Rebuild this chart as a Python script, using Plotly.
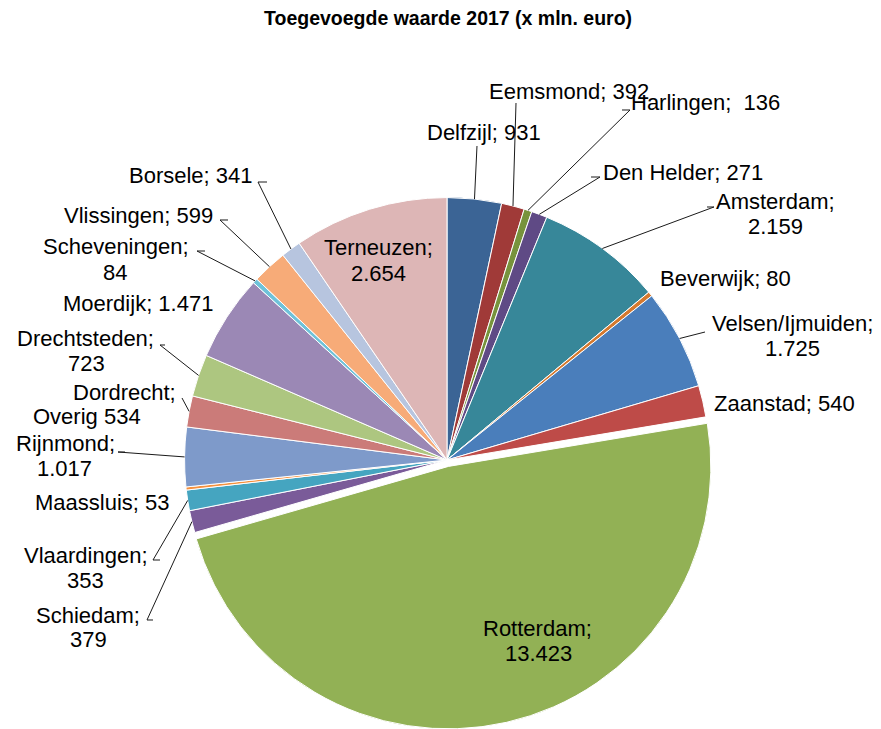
import math
import plotly.graph_objects as go

# ---- data ----
regions = ["Delfzijl", "Eemsmond", "Harlingen", "Den Helder", "Amsterdam", "Beverwijk",
           "Velsen/Ijmuiden", "Zaanstad", "Rotterdam", "Schiedam", "Vlaardingen", "Maassluis",
           "Rijnmond", "Dordrecht; Overig", "Drechtsteden", "Moerdijk", "Scheveningen",
           "Vlissingen", "Borsele", "Terneuzen"]
values = [931, 392, 136, 271, 2159, 80, 1725, 540, 13423, 379, 353, 53,
          1017, 534, 723, 1471, 84, 599, 341, 2654]
label_lines = [["Delfzijl; 931"], ["Eemsmond; 392"], ["Harlingen;\u00a0 136"], ["Den Helder; 271"],
               ["Amsterdam;", "2.159"], ["Beverwijk; 80"], ["Velsen/Ijmuiden;", "1.725"],
               ["Zaanstad; 540"], ["Rotterdam;", "13.423"], ["Schiedam;", "379"],
               ["Vlaardingen;", "353"], ["Maassluis; 53"], ["Rijnmond;", "1.017"],
               ["Dordrecht;", "Overig 534"], ["Drechtsteden;", "723"], ["Moerdijk; 1.471"],
               ["Scheveningen;", "84"], ["Vlissingen; 599"], ["Borsele; 341"], ["Terneuzen;", "2.654"]]
title_text = "Toegevoegde waarde 2017 (x mln. euro)"

# ---- styling / layout ----
colors = ["#3B6495", "#A03A38", "#77933C", "#5F4A85", "#378799", "#D5792E",
          "#4A7EBB", "#BE4B48", "#92B155", "#7A5B99", "#45A5C0", "#F5913E",
          "#7E9ACA", "#CB7B79", "#ADC680", "#9B88B5", "#6FC2D9", "#F7AB78",
          "#B7C5DF", "#DDB6B6"]
pulls = [0.025 if r == "Rotterdam" else 0 for r in regions]

W, H = 881, 729
CX, CY = 447, 460              # pie centre in pixels (from top-left)
HALF = H - CY                  # half size of the pie box
R = HALF / (1 + max(pulls))    # plotly radius rule

# per-line label centres in pixels
line_pos = [[(484, 132)], [(569, 91)], [(705, 103)], [(683, 172)],
            [(775, 202), (775, 227)], [(725, 279)], [(792, 323), (792, 348)],
            [(784, 403)], [(537, 628), (538, 653)], [(88, 615), (88, 639)],
            [(86, 555), (85, 580)], [(102, 502)], [(65, 443), (64, 468)],
            [(124, 392), (87, 417)], [(85, 338), (86, 363)], [(138, 303)],
            [(116, 247), (115, 272)], [(138, 215)], [(191, 175)], [(378, 248), (378, 274)]]

# leader line points (pixels) from the label side, None = no leader
leaders = [[(477, 146)], [(516, 103)], [(630, 110), (622, 110)], [(600, 177), (591, 177)],
           [(714, 207), (707, 207)], None, [(705, 332)], None, None,
           [(147, 620), (153, 620)], [(153, 560), (160, 560)], None,
           [(118, 452), (125, 452)], [(182, 398)], [(160, 345), (165, 345)], None,
           [(197, 251), (205, 251)], [(220, 220), (228, 220)], [(258, 182), (267, 182)], None]

FONT = "Liberation Sans, Arial, sans-serif"


def px(x):
    return x / W


def py(y):
    return 1 - y / H


fig = go.Figure(go.Pie(
    labels=regions, values=values, sort=False, direction="clockwise", rotation=0,
    marker=dict(colors=colors, line=dict(color="white", width=1)),
    pull=pulls, textinfo="none", hoverinfo="label+value",
    domain=dict(x=[(CX - HALF) / W, (CX + HALF) / W], y=[0, 2 * HALF / H]),
))

annotations = []
font = dict(family=FONT, size=22, color="#000000")
for lines, poss in zip(label_lines, line_pos):
    for txt, (x, y) in zip(lines, poss):
        annotations.append(dict(text=txt, x=px(x), y=py(y), xref="paper", yref="paper",
                                xanchor="center", yanchor="middle", showarrow=False,
                                font=font))
annotations.append(dict(text="<b>" + title_text + "</b>", x=px(448), y=py(18),
                        xref="paper", yref="paper", xanchor="center", yanchor="middle",
                        showarrow=False, font=dict(family=FONT, size=19.5, color="#000000")))

shapes = []
total = sum(values)
cum = 0
for v, ld in zip(values, leaders):
    mid = (cum + v / 2) / total * 2 * math.pi
    cum += v
    if not ld:
        continue
    ex = CX + R * math.sin(mid)
    ey = CY - R * math.cos(mid)
    pts = [(ex, ey)] + ld
    path = "M " + " L ".join(f"{px(a):.5f},{py(b):.5f}" for a, b in pts)
    shapes.append(dict(type="path", path=path, xref="paper", yref="paper",
                       line=dict(color="#1a1a1a", width=1)))

fig.update_layout(width=W, height=H, margin=dict(l=0, r=0, t=0, b=0),
                  paper_bgcolor="white", plot_bgcolor="white", showlegend=False,
                  annotations=annotations, shapes=shapes)

fig.write_html("out.html", config={"displayModeBar": False},
               post_script="document.body.style.margin='0';")
